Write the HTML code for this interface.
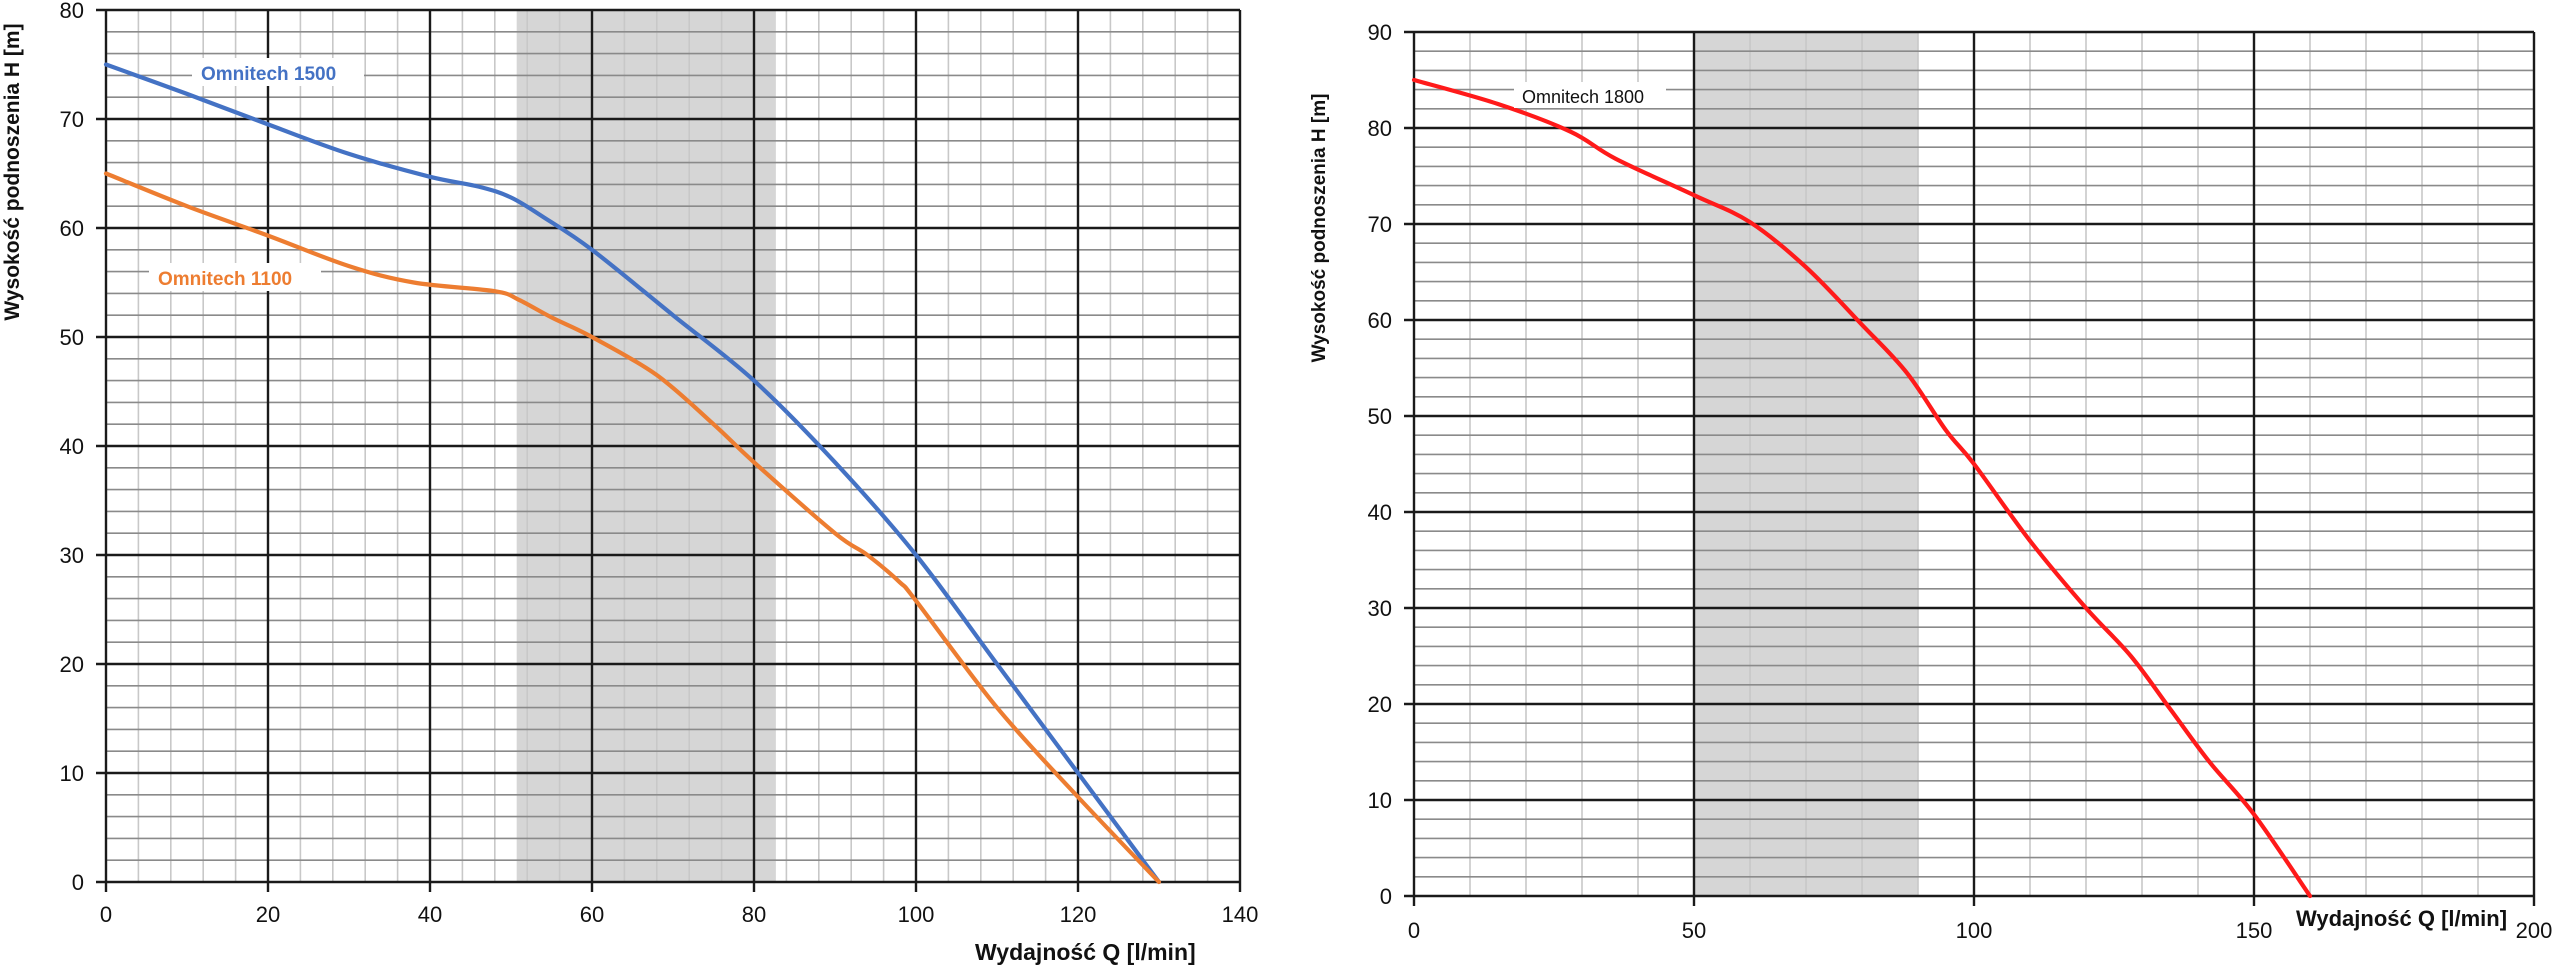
<!DOCTYPE html>
<html><head><meta charset="utf-8">
<style>
html,body{margin:0;padding:0;background:#fff;}
svg{display:block;}
text{font-family:"Liberation Sans",sans-serif;}
</style></head>
<body>
<svg id="s" width="2560" height="977" viewBox="0 0 2560 977" xmlns="http://www.w3.org/2000/svg">
<g id="g"></g>
</svg>
<script>
var NS="http://www.w3.org/2000/svg",g=document.getElementById('g');
function el(t,a,txt){var e=document.createElementNS(NS,t);for(var k in a)e.setAttribute(k,a[k]);if(txt!==undefined)e.textContent=txt;g.appendChild(e);return e;}
function chart(o){
  var X=function(q){return o.x0+o.sx*q},Y=function(h){return o.y0-o.sy*h};
  el('rect',{x:X(o.b0),y:Y(o.ymax),width:X(o.b1)-X(o.b0),height:Y(0)-Y(o.ymax),fill:'#d6d6d6'});
  for(var q=0;q<=o.xmax+1e-9;q+=o.xmin){el('line',{x1:X(q),x2:X(q),y1:Y(0),y2:Y(o.ymax),stroke:'#c8c8c8','stroke-width':1.6});}
  for(var h=0;h<=o.ymax+1e-9;h+=o.ymin){el('line',{x1:X(0),x2:X(o.xmax),y1:Y(h),y2:Y(h),stroke:'#8a8a8a','stroke-width':1.6});}
  for(var q=0;q<=o.xmax+1e-9;q+=o.xmaj){el('line',{x1:X(q),x2:X(q),y1:Y(0)+10,y2:Y(o.ymax),stroke:'#1a1a1a','stroke-width':2.4});
    el('text',{x:X(q),y:o.xly,'font-size':22,'text-anchor':'middle',fill:'#111'},String(q));}
  for(var h=0;h<=o.ymax+1e-9;h+=o.ymaj){el('line',{x1:X(0)-10,x2:X(o.xmax),y1:Y(h),y2:Y(h),stroke:'#1a1a1a','stroke-width':2.4});
    el('text',{x:o.ylx,y:Y(h)+8,'font-size':22,'text-anchor':'end',fill:'#111'},String(h));}
  return {X:X,Y:Y};
}
function curve(c,pts,col){
  var P=pts.map(function(p){return [c.X(p[0]),c.Y(p[1])];});
  var d='M'+P[0][0].toFixed(1)+' '+P[0][1].toFixed(1);
  for(var i=0;i<P.length-1;i++){
    var p0=P[i-1]||P[i],p1=P[i],p2=P[i+1],p3=P[i+2]||P[i+1];
    var c1=[p1[0]+(p2[0]-p0[0])/6,p1[1]+(p2[1]-p0[1])/6],c2=[p2[0]-(p3[0]-p1[0])/6,p2[1]-(p3[1]-p1[1])/6];
    d+=' C'+c1[0].toFixed(1)+' '+c1[1].toFixed(1)+' '+c2[0].toFixed(1)+' '+c2[1].toFixed(1)+' '+p2[0].toFixed(1)+' '+p2[1].toFixed(1);
  }
  el('path',{d:d,fill:'none',stroke:col,'stroke-width':4.2,'stroke-linejoin':'round','stroke-linecap':'round'});
}
var L=chart({x0:106,sx:8.1,y0:882,sy:10.9,xmax:140,ymax:80,xmin:4,ymin:2,xmaj:20,ymaj:10,b0:50.7,b1:82.7,xly:922,ylx:84});
var R=chart({x0:1414,sx:5.6,y0:896,sy:9.6,xmax:200,ymax:90,xmin:10,ymin:2,xmaj:50,ymaj:10,b0:50,b1:90,xly:938,ylx:1392});
curve(L,[[0,75],[10,72.3],[20,69.5],[30,66.8],[40,64.7],[46,63.8],[50,62.8],[54,61],[60,58],[70,52],[80,46],[90,38.5],[100,30],[110,20],[120,10],[130,0]],'#4472c4');
curve(L,[[0,65],[10,62],[20,59.3],[30,56.5],[38,55],[48,54.2],[51,53.4],[55,51.8],[60,50],[68,46.5],[75,42],[80,38.5],[90,32],[94,30],[98,27.5],[100,25.8],[110,16],[120,7.8],[130,0]],'#ed7d31');
curve(R,[[0,85],[15,82.5],[28,79.6],[36,76.8],[50,73],[60,70.2],[70,65.5],[80,59.5],[88,54.5],[95,48.5],[100,45],[110,37],[120,30],[128,25],[135,19.5],[142,14],[150,8.5],[160,0]],'#ff1a1a');
el('rect',{x:192,y:58,width:172,height:28,fill:'#fff'});
el('text',{x:201,y:80,'font-size':19,'font-weight':'bold',fill:'#4472c4'},'Omnitech 1500');
el('rect',{x:149,y:263,width:172,height:28,fill:'#fff'});
el('text',{x:158,y:285,'font-size':19,'font-weight':'bold',fill:'#ed7d31'},'Omnitech 1100');
el('rect',{x:1514,y:82,width:152,height:26,fill:'#fff'});
el('text',{x:1522,y:103,'font-size':18,fill:'#111'},'Omnitech 1800');
el('text',{x:975,y:960,'font-size':23,'font-weight':'bold',fill:'#111'},'Wydajność Q [l/min]');
el('text',{x:2296,y:926,'font-size':22,'font-weight':'bold',fill:'#111'},'Wydajność Q [l/min]');
el('text',{x:0,y:0,'font-size':21,'font-weight':'bold',fill:'#111','text-anchor':'middle',transform:'translate(19,172) rotate(-90)'},'Wysokość podnoszenia H [m]');
el('text',{x:0,y:0,'font-size':19,'font-weight':'bold',fill:'#111','text-anchor':'middle',transform:'translate(1325,228) rotate(-90)'},'Wysokość podnoszenia H [m]');
</script>
</body></html>
